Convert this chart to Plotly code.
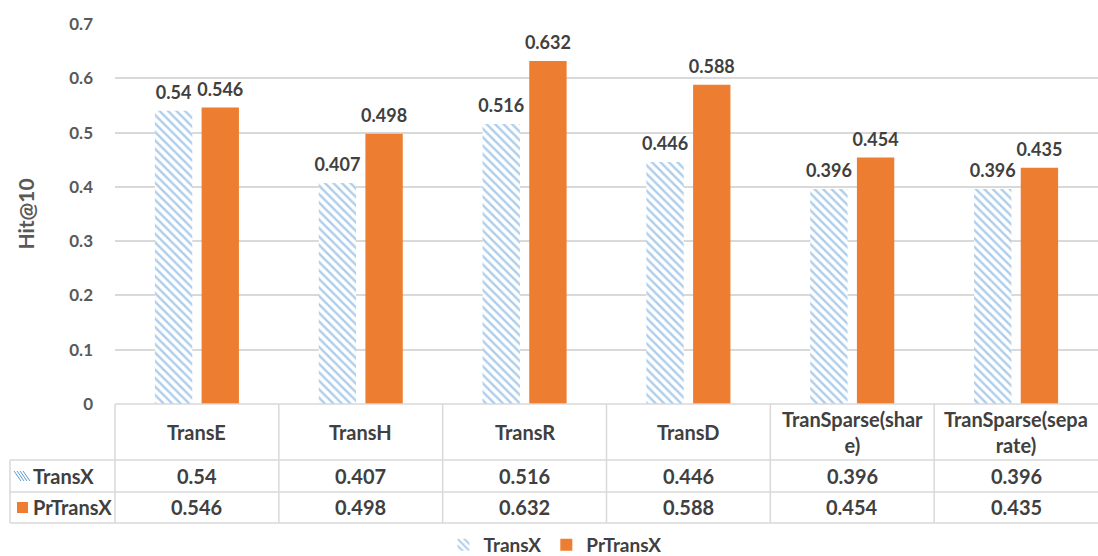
import plotly.graph_objects as go

categories = ["TransE", "TransH", "TransR", "TransD", "TranSparse(share)", "TranSparse(separate)"]
header_labels = ["TransE", "TransH", "TransR", "TransD", "TranSparse(shar<br>e)", "TranSparse(sepa<br>rate)"]
transx = [0.54, 0.407, 0.516, 0.446, 0.396, 0.396]
prtransx = [0.546, 0.498, 0.632, 0.588, 0.454, 0.435]
series_names = ["TransX", "PrTransX"]
y_ticks = [0, 0.1, 0.2, 0.3, 0.4, 0.5, 0.6, 0.7]

W, H = 1098, 556
ML, MR, MT, MB = 115, 0, 24, 152
PW = W - ML - MR
PH = H - MT - MB

BLUE = "#5B9BD5"
ORANGE = "#ED7D31"
TXT = "#404040"
TICK = "#595959"
GRID = "#D9D9D9"
FONT = "Lato"

def py(pix):  # pixel y -> paper y
    return (H - MB - pix) / PH

def px(pix):
    return (pix - ML) / PW

fig = go.Figure()
fig.add_trace(go.Bar(
    x=categories, y=transx, name=series_names[0],
    marker=dict(color="white", line=dict(width=0),
                pattern=dict(shape="\\", fgcolor=BLUE, bgcolor="white", size=6, solidity=0.4)),
))
fig.add_trace(go.Bar(
    x=categories, y=prtransx, name=series_names[1],
    marker=dict(color=ORANGE, line=dict(width=0)),
))
# value labels, grouped like the bars
for vals in (transx, prtransx):
    fig.add_trace(go.Scatter(
        x=categories, y=vals, mode="markers+text", text=["<b>%s</b>" % v for v in vals],
        textposition="top center", showlegend=False, hoverinfo="skip",
        marker=dict(size=10, color="rgba(0,0,0,0)"),
        textfont=dict(family=FONT, size=18, color=TXT), cliponaxis=False,
    ))

shapes = []
annotations = []
line = dict(color=GRID, width=1.5)
y_top = py(404)
y_h = py(460)
y_r1 = py(492)
y_r2 = py(523)
x_left = px(10)
shapes.append(dict(type="line", xref="paper", yref="paper", x0=0, x1=1, y0=y_top, y1=y_top, line=line))
for yy in (y_h, y_r1, y_r2):
    shapes.append(dict(type="line", xref="paper", yref="paper", x0=x_left, x1=1, y0=yy, y1=yy, line=line))
shapes.append(dict(type="line", xref="paper", yref="paper", x0=x_left, x1=x_left, y0=y_h, y1=y_r2, line=line))
shapes.append(dict(type="line", xref="paper", yref="paper", x0=0, x1=0, y0=y_top, y1=y_r2, line=line))
for i in range(1, len(categories)):
    shapes.append(dict(type="line", xref="x", yref="paper", x0=i - 0.5, x1=i - 0.5, y0=y_top, y1=y_r2, line=line))

tfont = dict(family=FONT, size=20, color=TXT, weight="bold")
for i, lab in enumerate(header_labels):
    annotations.append(dict(x=i, y=py(432), xref="x", yref="paper", text=lab, showarrow=False,
                            font=tfont, align="center", xanchor="center", yanchor="middle"))
    annotations.append(dict(x=i, y=py(476), xref="x", yref="paper", text=str(transx[i]), showarrow=False,
                            font=tfont, xanchor="center", yanchor="middle"))
    annotations.append(dict(x=i, y=py(507), xref="x", yref="paper", text=str(prtransx[i]), showarrow=False,
                            font=tfont, xanchor="center", yanchor="middle"))

annotations.append(dict(x=px(31), y=py(476), xref="paper", yref="paper", text=series_names[0], showarrow=False,
                        xanchor="left", yanchor="middle", font=tfont))
annotations.append(dict(x=px(31), y=py(507), xref="paper", yref="paper", text=series_names[1], showarrow=False,
                        xanchor="left", yanchor="middle", font=tfont))
for k in range(4):
    x0 = 17 + k * 3
    shapes.append(dict(type="line", xref="paper", yref="paper",
                       x0=px(x0 - 3), y0=py(471), x1=px(x0 + 4), y1=py(481),
                       line=dict(color=BLUE, width=1)))
shapes.append(dict(type="rect", xref="paper", yref="paper", x0=px(17), x1=px(28), y0=py(502), y1=py(513),
                   fillcolor=ORANGE, line=dict(width=0)))

fig.update_layout(
    width=W, height=H,
    margin=dict(l=ML, r=MR, t=MT, b=MB, autoexpand=False),
    paper_bgcolor="white", plot_bgcolor="white",
    barmode="group", bargap=0.43, bargroupgap=0.2,
    scattermode="group", scattergap=0.43,
    font=dict(family=FONT, color=TICK),
    xaxis=dict(showticklabels=False, showgrid=False, zeroline=False, showline=False, ticks=""),
    yaxis=dict(range=[0, 0.7], tickvals=y_ticks, ticktext=[("%g" % v) for v in y_ticks],
               showgrid=True, gridcolor=GRID, gridwidth=1.5, zeroline=False, showline=False,
               tickfont=dict(family=FONT, size=17, color=TICK, weight="bold"),
               ticklabelstandoff=21,
               title=dict(text="Hit@10", font=dict(family=FONT, size=21, color=TICK, weight="bold"), standoff=28)),
    legend=dict(orientation="h", x=px(555), xanchor="center", y=py(545), yanchor="middle",
                font=dict(family=FONT, size=19, color=TXT, weight="bold"), itemwidth=30,
                tracegroupgap=0),
    shapes=shapes, annotations=annotations,
    showlegend=True,
)

fig.write_html("out.html", config={"displayModeBar": False},
               post_script="document.body.style.margin='0';document.body.style.overflow='hidden';")
